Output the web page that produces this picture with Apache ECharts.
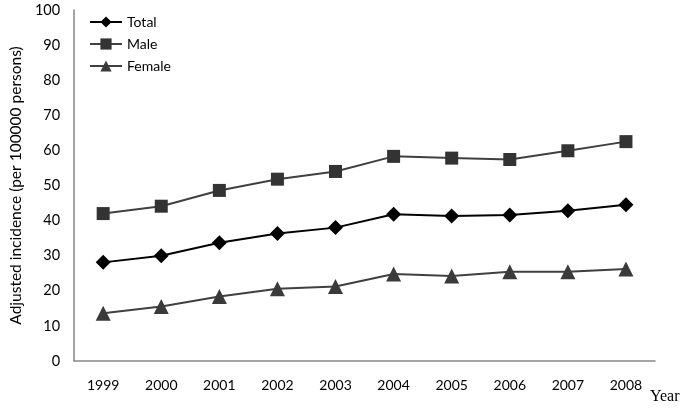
<!DOCTYPE html>
<html>
<head>
<meta charset="utf-8">
<script src="https://cdn.jsdelivr.net/npm/echarts@6/dist/echarts.min.js"></script>
<style>
html,body{margin:0;padding:0;background:#fff;}
#chart{width:683px;height:409px;}
</style>
</head>
<body>
<div id="chart"></div>
<script>
const years = ['1999','2000','2001','2002','2003','2004','2005','2006','2007','2008'];
const total = [28.1, 30.0, 33.7, 36.3, 38.0, 41.8, 41.3, 41.6, 42.8, 44.5];
const male = [42.0, 44.1, 48.6, 51.8, 54.0, 58.3, 57.8, 57.4, 59.9, 62.5];
const female = [13.6, 15.5, 18.4, 20.6, 21.2, 24.8, 24.2, 25.4, 25.4, 26.2];
const yTicks = [0, 10, 20, 30, 40, 50, 60, 70, 80, 90, 100];

const chart = echarts.init(document.getElementById('chart'));
const font = 'Lato, "Open Sans", sans-serif';
chart.setOption({
  animation: false,
  grid: {left: 71, right: 28, top: 10, bottom: 48},
  legend: {
    orient: 'vertical', left: 84, top: 10, itemWidth: 32, itemHeight: 14, itemGap: 8,
    textStyle: {fontFamily: font, fontSize: 14, color: '#000'},
    data: ['Total', 'Male', 'Female']
  },
  xAxis: {
    type: 'category', data: years, boundaryGap: true,
    axisLine: {lineStyle: {color: '#868686', width: 1.5}},
    axisTick: {show: false},
    axisLabel: {fontFamily: font, fontSize: 14, color: '#000', margin: 17}
  },
  yAxis: {
    type: 'value', min: yTicks[0], max: yTicks[yTicks.length - 1], interval: 10,
    name: 'Adjusted incidence (per 100000 persons)', nameLocation: 'middle', nameGap: 48,
    nameTextStyle: {fontFamily: font, fontSize: 15.5, color: '#000'},
    axisLine: {show: true, lineStyle: {color: '#868686', width: 1.5}},
    axisTick: {show: false},
    splitLine: {show: false},
    axisLabel: {fontFamily: font, fontSize: 14.5, color: '#000', margin: 14}
  },
  series: [
    {name: 'Total', type: 'line', data: total, symbol: 'diamond', symbolSize: 15,
     lineStyle: {color: '#000', width: 2}, itemStyle: {color: '#000'}},
    {name: 'Male', type: 'line', data: male, symbol: 'rect', symbolSize: 13,
     lineStyle: {color: '#404040', width: 2}, itemStyle: {color: '#333'}},
    {name: 'Female', type: 'line', data: female, symbol: 'triangle', symbolSize: 15,
     lineStyle: {color: '#404040', width: 2}, itemStyle: {color: '#3a3a3a'}}
  ],
  graphic: [{
    type: 'text', left: 650, top: 389,
    style: {text: 'Year', font: '16px "Liberation Serif", serif', fill: '#000'}
  }]
});
</script>
</body>
</html>
